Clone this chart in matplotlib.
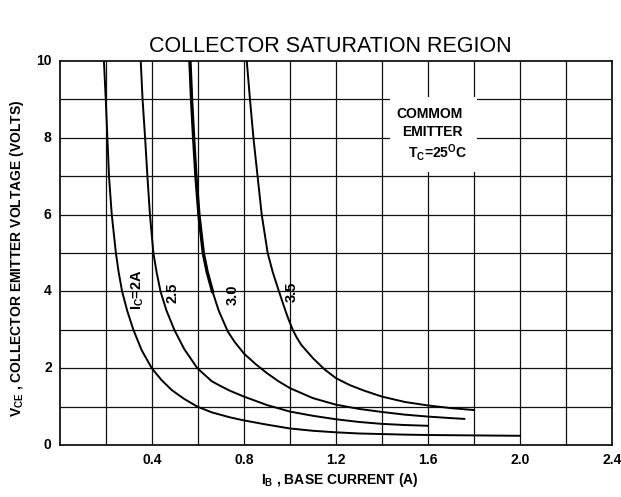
import matplotlib
matplotlib.use("Agg")
import matplotlib.pyplot as plt
from matplotlib.patches import Rectangle

plt.rcParams['font.family'] = ['Liberation Sans', 'DejaVu Sans']
plt.rcParams['mathtext.default'] = 'regular'

# ---- data ----
ic2_x = [0.191, 0.199, 0.206, 0.213, 0.225, 0.243, 0.255, 0.270, 0.292, 0.319,
         0.355, 0.399, 0.44, 0.486, 0.54, 0.597, 0.66, 0.739, 0.80, 0.90,
         1.0, 1.1, 1.2, 1.3, 1.4, 1.5, 1.6, 1.8, 2.0]
ic2_y = [10, 9, 8, 7, 6, 5, 4.5, 4.0, 3.5, 3.0,
         2.47, 2.0, 1.70, 1.43, 1.2, 1.0, 0.85, 0.72, 0.64, 0.53,
         0.43, 0.37, 0.33, 0.30, 0.285, 0.27, 0.26, 0.25, 0.24]

ic25_x = [0.351, 0.359, 0.370, 0.380, 0.391, 0.406, 0.42, 0.437, 0.463, 0.497,
          0.54, 0.597, 0.66, 0.70, 0.74, 0.80, 0.90, 1.0, 1.1, 1.2,
          1.3, 1.4, 1.5, 1.6]
ic25_y = [10, 9, 8, 7, 6, 5, 4.5, 4.0, 3.5, 3.0,
          2.5, 2.0, 1.66, 1.53, 1.41, 1.26, 1.04, 0.87, 0.76, 0.67,
          0.60, 0.55, 0.52, 0.50]

ic30_x = [0.565, 0.572, 0.581, 0.591, 0.604, 0.623, 0.64, 0.663, 0.69, 0.73,
          0.76, 0.80, 0.85, 0.90, 0.95, 1.0, 1.1, 1.2, 1.3, 1.4,
          1.5, 1.6, 1.7, 1.758]
ic30_y = [10, 9, 8, 7, 6, 5, 4.5, 4.0, 3.5, 2.95,
          2.68, 2.38, 2.11, 1.87, 1.66, 1.48, 1.22, 1.05, 0.94, 0.86,
          0.79, 0.74, 0.70, 0.68]

ic35_x = [0.812, 0.826, 0.841, 0.859, 0.877, 0.903, 0.925, 0.952, 0.98, 0.995,
          1.012, 1.03, 1.05, 1.10, 1.15, 1.20, 1.26, 1.32, 1.40, 1.5,
          1.6, 1.7, 1.80]
ic35_y = [10, 9, 8, 7, 6, 5, 4.5, 4.0, 3.5, 3.25,
          3.0, 2.79, 2.6, 2.26, 1.97, 1.74, 1.56, 1.42, 1.26, 1.12,
          1.03, 0.96, 0.91]

curve_labels = ['I$_C$=2A', '2.5', '3.0', '3.5']
label_x = [0.338, 0.487, 0.752, 1.009]
label_y = [4.06, 3.96, 3.91, 3.98]

x_ticks = [0.4, 0.8, 1.2, 1.6, 2.0, 2.4]
x_ticklabels = ['0.4', '0.8', '1.2', '1.6', '2.0', '2.4']
y_ticks = [0, 2, 4, 6, 8, 10]
y_ticklabels = ['0', '2', '4', '6', '8', '10']

# ---- figure ----
W, H = 621, 497
fig = plt.figure(figsize=(W / 100, H / 100), dpi=100)
ax = fig.add_axes([60 / W, 52 / H, 552 / W, 384 / H])

ax.set_xlim(0, 2.4)
ax.set_ylim(0, 10)
ax.set_xticks([i * 0.2 for i in range(1, 12)])
ax.set_yticks(range(1, 10))
ax.grid(True, color='#111111', linewidth=0.9)
ax.set_axisbelow(True)
ax.tick_params(length=0, labelbottom=False, labelleft=False)
for s in ax.spines.values():
    s.set_linewidth(1.2)
    s.set_color('black')

# labelled ticks as text placed through the axes transforms
for xv, lab in zip(x_ticks, x_ticklabels):
    ax.annotate(lab, (xv, 0), xytext=(0, -6), textcoords='offset points',
                ha='center', va='top', fontsize=10, fontweight='bold')
for yv, lab in zip(y_ticks, y_ticklabels):
    ax.annotate(lab, (0, yv), xytext=(-6, 0), textcoords='offset points',
                ha='right', va='center', fontsize=10, fontweight='bold')

# curves
lw = 1.4
ax.plot(ic2_x, ic2_y, color='black', lw=lw, zorder=3)
ax.plot(ic25_x, ic25_y, color='black', lw=lw, zorder=3)
ax.plot(ic30_x, ic30_y, color='black', lw=lw, zorder=3)
ax.plot(ic30_x[:8], ic30_y[:8], color='black', lw=2.4, zorder=3)
ax.plot(ic35_x, ic35_y, color='black', lw=lw, zorder=3)

for t, xv, yv in zip(curve_labels, label_x, label_y):
    ax.text(xv, yv, t, rotation=90, ha='center', va='center',
            fontsize=10.5, fontweight='bold', zorder=4)

# white mask behind the annotation block
ax.add_patch(Rectangle((1.435, 7.12), 0.38, 1.95, facecolor='white',
                       edgecolor='none', zorder=1))
ax.text(1.608, 8.62, 'COMMOM', ha='center', va='center', fontsize=10,
        fontweight='bold', zorder=4)
ax.text(1.617, 8.15, 'EMITTER', ha='center', va='center', fontsize=10,
        fontweight='bold', zorder=4)
ax.text(1.64, 7.62, 'T$_C$=25$^{O}$C', ha='center', va='center', fontsize=10,
        fontweight='bold', zorder=4)

# titles
fig.text(330 / W, 1 - 47 / H, 'COLLECTOR SATURATION REGION', ha='center',
         va='center', fontsize=15.5)
fig.text(340 / W, 1 - 480 / H, 'I$_B$ , BASE CURRENT (A)', ha='center',
         va='center', fontsize=10, fontweight='bold')
fig.text(17 / W, 1 - 258 / H, 'V$_{CE}$ , COLLECTOR EMITTER VOLTAGE (VOLTS)',
         ha='center', va='center', rotation=90, fontsize=10, fontweight='bold')

fig.savefig('out.png', dpi=100)
